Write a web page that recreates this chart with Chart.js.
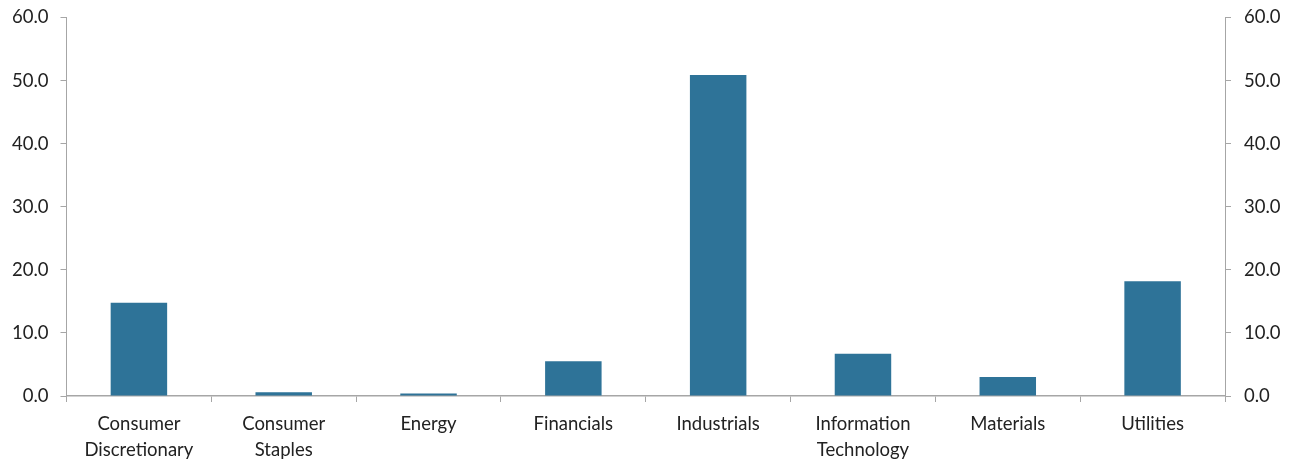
<!DOCTYPE html>
<html>
<head>
<meta charset="utf-8">
<script src="https://cdn.jsdelivr.net/npm/chart.js@4/dist/chart.umd.min.js"></script>
<style>
html,body{margin:0;padding:0;background:#fff;}
#wrap{width:1302px;height:462px;position:relative;}
</style>
</head>
<body>
<div id="wrap"><canvas id="c"></canvas></div>
<script>
const categories = [["Consumer","Discretionary"],["Consumer","Staples"],"Energy","Financials","Industrials",["Information","Technology"],"Materials","Utilities"];
const values = [14.8, 0.6, 0.4, 5.5, 50.9, 6.7, 3.0, 18.2];
const yMin = 0, yMax = 60, yStep = 10;

const axisColor = '#A6A6A6';
const textColor = '#222222';
const font = {family: 'Lato', size: 18.5};

new Chart(document.getElementById('c'), {
  type: 'bar',
  data: {
    labels: categories,
    datasets: [{
      data: values,
      backgroundColor: '#2E7398',
      borderWidth: 0,
      categoryPercentage: 0.39,
      barPercentage: 1.0
    }]
  },
  options: {
    responsive: true,
    maintainAspectRatio: false,
    animation: false,
    layout: {padding: {top: 17.5, left: 0, right: 0, bottom: 0}},
    plugins: {legend: {display: false}, tooltip: {enabled: false}},
    scales: {
      x: {
        grid: {drawOnChartArea: false, drawTicks: true, tickLength: 6, color: axisColor, offset: true},
        border: {color: axisColor, width: 1.5},
        ticks: {color: textColor, font: {...font, lineHeight: 1.38}, padding: 9.5, maxRotation: 0, autoSkip: false},
        afterFit: s => { s.height = 66; s.paddingLeft = 0; s.paddingRight = 0; }
      },
      y: {
        position: 'left',
        min: yMin, max: yMax,
        grid: {drawOnChartArea: false, drawTicks: true, tickLength: 6, color: axisColor},
        border: {color: axisColor, width: 1},
        ticks: {stepSize: yStep, color: textColor, font: font, padding: 12, callback: v => Number(v).toFixed(1)},
        afterFit: s => { s.width = 66.5; s.paddingTop = 0; s.paddingBottom = 0; }
      },
      y2: {
        position: 'right',
        min: yMin, max: yMax,
        grid: {drawOnChartArea: false, drawTicks: true, tickLength: 6, color: axisColor},
        border: {color: axisColor, width: 1},
        ticks: {stepSize: yStep, color: textColor, font: font, padding: 13, callback: v => Number(v).toFixed(1)},
        afterFit: s => { s.width = 77; s.paddingTop = 0; s.paddingBottom = 0; }
      }
    }
  }
});
</script>
</body>
</html>
